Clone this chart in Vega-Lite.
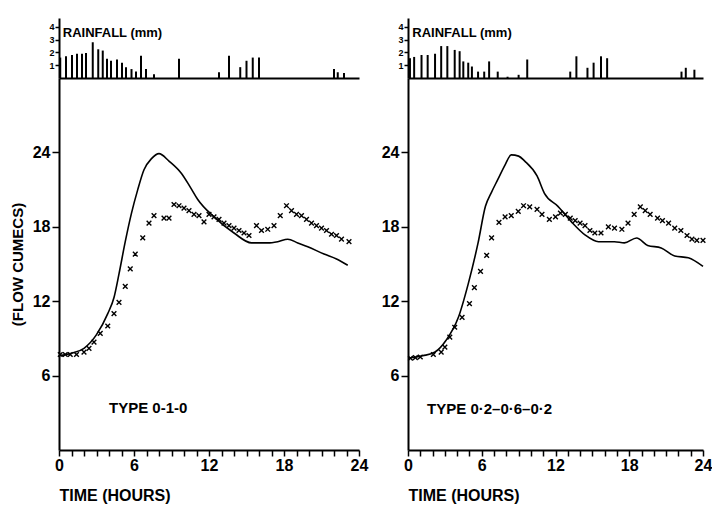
{
  "$schema": "https://vega.github.io/schema/vega-lite/v6.json",
  "padding": {"left": 10, "top": 18, "right": 0, "bottom": 5},
  "background": "white",
  "config": {
    "view": {"stroke": null},
    "font": "Liberation Sans",
    "axis": {
      "grid": false,
      "domainColor": "black",
      "domainWidth": 2,
      "tickColor": "black",
      "tickWidth": 1.5,
      "labelColor": "black",
      "titleColor": "black",
      "labelFont": "Liberation Sans",
      "titleFont": "Liberation Sans",
      "labelFontWeight": "bold",
      "titleFontWeight": "bold",
      "labelOverlap": false
    }
  },
  "datasets": {
    "rainA": [
      {"t": 0.1, "r": 1.6}, {"t": 0.56, "r": 1.7}, {"t": 1.04, "r": 1.8}, {"t": 1.44, "r": 1.9},
      {"t": 1.84, "r": 1.9}, {"t": 2.16, "r": 1.95}, {"t": 2.7, "r": 2.8}, {"t": 3.14, "r": 2.25},
      {"t": 3.5, "r": 2.15}, {"t": 3.84, "r": 1.5}, {"t": 4.16, "r": 1.35}, {"t": 4.64, "r": 1.45},
      {"t": 5.04, "r": 1.2}, {"t": 5.36, "r": 0.85}, {"t": 5.8, "r": 0.7}, {"t": 6.16, "r": 0.5},
      {"t": 6.56, "r": 1.75}, {"t": 6.96, "r": 0.7}, {"t": 7.6, "r": 0.3}, {"t": 9.6, "r": 1.5},
      {"t": 12.8, "r": 0.45}, {"t": 13.6, "r": 1.75}, {"t": 14.5, "r": 0.85}, {"t": 15.0, "r": 1.35},
      {"t": 15.5, "r": 1.6}, {"t": 16.0, "r": 1.6}, {"t": 22.0, "r": 0.7}, {"t": 22.3, "r": 0.45},
      {"t": 22.8, "r": 0.4}
    ],
    "simA": [
      {"t": 0, "q": 7.6}, {"t": 1, "q": 7.8}, {"t": 2, "q": 8.2}, {"t": 3, "q": 9.3},
      {"t": 3.9, "q": 11.0}, {"t": 4.4, "q": 12.3}, {"t": 4.8, "q": 14.2}, {"t": 5.3, "q": 16.8},
      {"t": 5.8, "q": 19.1}, {"t": 6.3, "q": 21.0}, {"t": 6.8, "q": 22.6}, {"t": 7.4, "q": 23.5},
      {"t": 8.0, "q": 23.9}, {"t": 8.8, "q": 23.3}, {"t": 9.8, "q": 22.3}, {"t": 10.5, "q": 21.2},
      {"t": 11.1, "q": 20.2}, {"t": 12.4, "q": 18.8}, {"t": 14.0, "q": 17.5}, {"t": 15.4, "q": 16.7},
      {"t": 16.7, "q": 16.7}, {"t": 17.5, "q": 16.8}, {"t": 18.3, "q": 17.0}, {"t": 19.1, "q": 16.7},
      {"t": 19.9, "q": 16.4}, {"t": 21.2, "q": 15.8}, {"t": 22.2, "q": 15.4}, {"t": 23.1, "q": 14.9}
    ],
    "obsA": [
      {"t": 0.1, "q": 7.7}, {"t": 0.5, "q": 7.7}, {"t": 0.9, "q": 7.7}, {"t": 1.4, "q": 7.7},
      {"t": 2.0, "q": 7.9}, {"t": 2.4, "q": 8.2}, {"t": 2.8, "q": 8.7}, {"t": 3.3, "q": 9.4},
      {"t": 3.9, "q": 10.0}, {"t": 4.4, "q": 11.0}, {"t": 4.8, "q": 11.9}, {"t": 5.3, "q": 13.2},
      {"t": 5.7, "q": 14.6}, {"t": 6.1, "q": 15.8}, {"t": 6.7, "q": 17.1}, {"t": 7.2, "q": 18.3},
      {"t": 7.6, "q": 18.9}, {"t": 8.4, "q": 18.7}, {"t": 8.8, "q": 18.7}, {"t": 9.2, "q": 19.8},
      {"t": 9.6, "q": 19.7}, {"t": 10.0, "q": 19.5}, {"t": 10.4, "q": 19.3}, {"t": 10.8, "q": 19.0},
      {"t": 11.2, "q": 18.9}, {"t": 11.6, "q": 18.4}, {"t": 12.0, "q": 19.0}, {"t": 12.4, "q": 18.8},
      {"t": 12.8, "q": 18.6}, {"t": 13.2, "q": 18.3}, {"t": 13.6, "q": 18.1}, {"t": 14.0, "q": 17.9},
      {"t": 14.4, "q": 17.7}, {"t": 14.8, "q": 17.5}, {"t": 15.2, "q": 17.3}, {"t": 15.8, "q": 18.1},
      {"t": 16.2, "q": 17.7}, {"t": 16.7, "q": 17.8}, {"t": 17.2, "q": 18.1}, {"t": 17.7, "q": 18.9},
      {"t": 18.2, "q": 19.7}, {"t": 18.6, "q": 19.3}, {"t": 19.0, "q": 19.0}, {"t": 19.4, "q": 18.9},
      {"t": 19.8, "q": 18.6}, {"t": 20.2, "q": 18.3}, {"t": 20.6, "q": 18.1}, {"t": 21.0, "q": 17.9},
      {"t": 21.4, "q": 17.7}, {"t": 21.8, "q": 17.4}, {"t": 22.2, "q": 17.3}, {"t": 22.6, "q": 17.0},
      {"t": 23.2, "q": 16.8}
    ],
    "rainB": [
      {"t": 0.16, "r": 1.55}, {"t": 0.5, "r": 1.65}, {"t": 1.1, "r": 1.8}, {"t": 1.6, "r": 1.8},
      {"t": 2.2, "r": 1.9}, {"t": 2.7, "r": 2.5}, {"t": 3.2, "r": 2.5}, {"t": 3.8, "r": 2.2},
      {"t": 4.2, "r": 2.1}, {"t": 4.5, "r": 1.3}, {"t": 4.9, "r": 1.2}, {"t": 5.2, "r": 0.9},
      {"t": 5.7, "r": 0.5}, {"t": 6.2, "r": 0.5}, {"t": 6.6, "r": 1.3}, {"t": 7.3, "r": 0.5},
      {"t": 8.1, "r": 0.1}, {"t": 9.0, "r": 0.25}, {"t": 9.7, "r": 1.45}, {"t": 13.2, "r": 0.5},
      {"t": 13.7, "r": 1.7}, {"t": 14.6, "r": 0.8}, {"t": 15.1, "r": 1.2}, {"t": 15.7, "r": 1.7},
      {"t": 16.2, "r": 1.55}, {"t": 22.25, "r": 0.5}, {"t": 22.6, "r": 0.8}, {"t": 23.3, "r": 0.65}
    ],
    "simB": [
      {"t": 0, "q": 7.4}, {"t": 1.2, "q": 7.6}, {"t": 2.2, "q": 7.9}, {"t": 3.1, "q": 8.85},
      {"t": 4.1, "q": 10.7}, {"t": 4.9, "q": 13.4}, {"t": 5.7, "q": 16.7}, {"t": 6.3, "q": 19.65},
      {"t": 6.8, "q": 20.8}, {"t": 7.3, "q": 21.8}, {"t": 7.9, "q": 23.0}, {"t": 8.4, "q": 23.8},
      {"t": 9.0, "q": 23.7}, {"t": 9.5, "q": 23.3}, {"t": 10.5, "q": 22.1}, {"t": 11.1, "q": 20.7},
      {"t": 12.2, "q": 19.65}, {"t": 13.3, "q": 18.4}, {"t": 14.4, "q": 17.35}, {"t": 15.5, "q": 16.8},
      {"t": 16.8, "q": 16.8}, {"t": 17.6, "q": 16.7}, {"t": 18.6, "q": 17.1}, {"t": 19.5, "q": 16.5},
      {"t": 20.6, "q": 16.3}, {"t": 21.7, "q": 15.65}, {"t": 22.8, "q": 15.5}, {"t": 24.0, "q": 14.8}
    ],
    "obsB": [
      {"t": 0.2, "q": 7.4}, {"t": 0.6, "q": 7.45}, {"t": 1.0, "q": 7.5}, {"t": 2.06, "q": 7.7},
      {"t": 2.7, "q": 7.9}, {"t": 3.0, "q": 8.3}, {"t": 3.4, "q": 9.1}, {"t": 3.8, "q": 9.9},
      {"t": 4.4, "q": 10.7}, {"t": 5.0, "q": 11.8}, {"t": 5.4, "q": 13.1}, {"t": 5.9, "q": 14.4},
      {"t": 6.4, "q": 15.7}, {"t": 6.8, "q": 17.1}, {"t": 7.4, "q": 18.35}, {"t": 7.9, "q": 18.8},
      {"t": 8.4, "q": 18.9}, {"t": 8.97, "q": 19.25}, {"t": 9.4, "q": 19.7}, {"t": 9.9, "q": 19.6},
      {"t": 10.5, "q": 19.4}, {"t": 10.9, "q": 19.0}, {"t": 11.5, "q": 18.6}, {"t": 12.0, "q": 18.8},
      {"t": 12.4, "q": 19.1}, {"t": 12.8, "q": 19.0}, {"t": 13.2, "q": 18.7}, {"t": 13.6, "q": 18.5},
      {"t": 14.0, "q": 18.3}, {"t": 14.4, "q": 18.1}, {"t": 14.8, "q": 17.7}, {"t": 15.2, "q": 17.5},
      {"t": 15.7, "q": 17.5}, {"t": 16.3, "q": 18.0}, {"t": 16.8, "q": 17.9}, {"t": 17.4, "q": 17.8},
      {"t": 17.9, "q": 18.3}, {"t": 18.4, "q": 19.0}, {"t": 18.9, "q": 19.6}, {"t": 19.3, "q": 19.3},
      {"t": 19.7, "q": 19.0}, {"t": 20.3, "q": 18.7}, {"t": 20.7, "q": 18.5}, {"t": 21.2, "q": 18.3},
      {"t": 21.7, "q": 17.9}, {"t": 22.2, "q": 17.7}, {"t": 22.7, "q": 17.3}, {"t": 23.1, "q": 17.0},
      {"t": 23.5, "q": 16.9}, {"t": 24.0, "q": 16.9}
    ]
  },
  "spacing": 13,
  "hconcat": [
    {
      "bounds": "flush",
      "spacing": 0,
      "vconcat": [
        {
          "width": 300,
          "height": 60,
          "encoding": {
            "x": {"field": "t", "type": "quantitative", "scale": {"domain": [0, 24]},
                  "axis": {"title": null, "labels": false, "ticks": false}},
            "y": {"field": "r", "type": "quantitative", "scale": {"domain": [0, 4.7]},
                  "axis": {"title": null, "values": [1, 2, 3, 4], "labelFontSize": 9, "tickSize": 4, "labelPadding": 1, "labelOverlap": false, "labelBound": false, "labelFlush": false}}
          },
          "layer": [
            {
              "data": {"name": "rainA"},
              "mark": {"type": "rule", "color": "black", "strokeWidth": 2},
              "encoding": {"y2": {"datum": 0}}
            },
            {
              "data": {"values": [{"t": 0.3, "r": 3.5, "label": "RAINFALL (mm)"}]},
              "mark": {"type": "text", "align": "left", "baseline": "middle", "fontSize": 13, "fontWeight": "bold", "font": "Liberation Sans"},
              "encoding": {"text": {"field": "label"}}
            }
          ]
        },
        {
          "width": 300,
          "height": 372,
          "encoding": {
            "x": {"field": "t", "type": "quantitative", "scale": {"domain": [0, 24]},
                  "axis": {"title": "TIME (HOURS)", "tickCount": 24,
                           "labelExpr": "datum.value % 6 === 0 ? datum.label : ''", "labelOverlap": false, "labelFlush": false, "tickSize": 6, "labelFontSize": 16,
                           "titleFontSize": 16, "titleAnchor": "start", "titlePadding": 14, "labelPadding": 1}},
            "y": {"field": "q", "type": "quantitative", "scale": {"domain": [0, 30]},
                  "axis": {"title": "(FLOW CUMECS)", "values": [6, 12, 18, 24], "tickSize": 7, "labelFontSize": 16,
                           "titleFontSize": 15, "titlePadding": 7, "labelPadding": 2}}
          },
          "layer": [
            {
              "data": {"name": "simA"},
              "mark": {"type": "line", "color": "black", "strokeWidth": 1.6, "interpolate": "monotone"}
            },
            {
              "data": {"name": "obsA"},
              "mark": {"type": "point", "shape": "M-1,-1L1,1M-1,1L1,-1", "size": 22, "strokeWidth": 1.4, "color": "black", "filled": false, "opacity": 1}
            },
            {
              "data": {"values": [{"t": 4.0, "q": 3.4, "label": "TYPE 0-1-0"}]},
              "mark": {"type": "text", "align": "left", "baseline": "middle", "fontSize": 15, "fontWeight": "bold", "font": "Liberation Sans"},
              "encoding": {"text": {"field": "label"}}
            }
          ]
        }
      ]
    },
    {
      "bounds": "flush",
      "spacing": 0,
      "vconcat": [
        {
          "width": 295,
          "height": 60,
          "encoding": {
            "x": {"field": "t", "type": "quantitative", "scale": {"domain": [0, 24]},
                  "axis": {"title": null, "labels": false, "ticks": false}},
            "y": {"field": "r", "type": "quantitative", "scale": {"domain": [0, 4.7]},
                  "axis": {"title": null, "values": [1, 2, 3, 4], "labelFontSize": 9, "tickSize": 4, "labelPadding": 1, "labelOverlap": false, "labelBound": false, "labelFlush": false}}
          },
          "layer": [
            {
              "data": {"name": "rainB"},
              "mark": {"type": "rule", "color": "black", "strokeWidth": 2},
              "encoding": {"y2": {"datum": 0}}
            },
            {
              "data": {"values": [{"t": 0.35, "r": 3.5, "label": "RAINFALL (mm)"}]},
              "mark": {"type": "text", "align": "left", "baseline": "middle", "fontSize": 13, "fontWeight": "bold", "font": "Liberation Sans"},
              "encoding": {"text": {"field": "label"}}
            }
          ]
        },
        {
          "width": 295,
          "height": 372,
          "encoding": {
            "x": {"field": "t", "type": "quantitative", "scale": {"domain": [0, 24]},
                  "axis": {"title": "TIME (HOURS)", "tickCount": 24,
                           "labelExpr": "datum.value % 6 === 0 ? datum.label : ''", "labelOverlap": false, "labelFlush": false, "tickSize": 6, "labelFontSize": 16,
                           "titleFontSize": 16, "titleAnchor": "start", "titlePadding": 14, "labelPadding": 1}},
            "y": {"field": "q", "type": "quantitative", "scale": {"domain": [0, 30]},
                  "axis": {"title": null, "values": [6, 12, 18, 24], "tickSize": 7, "labelFontSize": 16, "labelPadding": 2}}
          },
          "layer": [
            {
              "data": {"name": "simB"},
              "mark": {"type": "line", "color": "black", "strokeWidth": 1.6, "interpolate": "monotone"}
            },
            {
              "data": {"name": "obsB"},
              "mark": {"type": "point", "shape": "M-1,-1L1,1M-1,1L1,-1", "size": 22, "strokeWidth": 1.4, "color": "black", "filled": false, "opacity": 1}
            },
            {
              "data": {"values": [{"t": 1.55, "q": 3.3, "label": "TYPE 0·2–0·6–0·2"}]},
              "mark": {"type": "text", "align": "left", "baseline": "middle", "fontSize": 15, "fontWeight": "bold", "font": "Liberation Sans"},
              "encoding": {"text": {"field": "label"}}
            }
          ]
        }
      ]
    }
  ]
}
